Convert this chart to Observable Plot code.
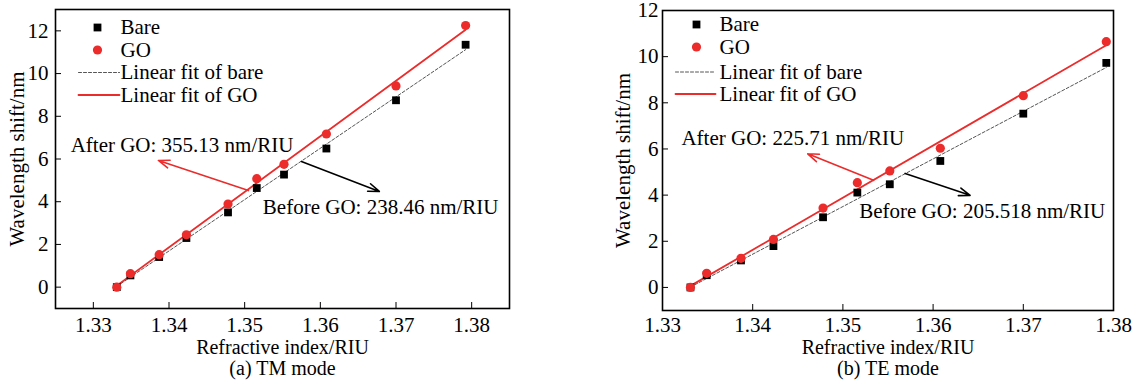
<!DOCTYPE html>
<html>
<head>
<meta charset="utf-8">
<script src="https://cdn.jsdelivr.net/npm/d3@7"></script>
<script src="https://cdn.jsdelivr.net/npm/@observablehq/plot@0.6"></script>
<style>
  html, body { margin: 0; padding: 0; background: #fff; }
  #wrap { position: relative; width: 1148px; height: 386px; overflow: hidden; }
  .panel { position: absolute; top: 0; }
  #wrap svg, #wrap svg text { font-family: "Liberation Serif", "Times New Roman", "DejaVu Serif", serif !important; }
</style>
</head>
<body>
<div id="wrap">
  <div class="panel" id="pa" style="left:0px"></div>
  <div class="panel" id="pb" style="left:574px"></div>
</div>
<script>
// ---- data ----
const refractiveIndex = [1.3331, 1.3349, 1.3387, 1.3423, 1.3478, 1.3516, 1.3552, 1.3608, 1.3700, 1.3792];
const tmBare = [0, 0.55, 1.41, 2.30, 3.50, 4.64, 5.27, 6.49, 8.75, 11.35];
const tmGO   = [0, 0.63, 1.52, 2.45, 3.89, 5.08, 5.75, 7.17, 9.42, 12.25];
const teBare = [0, 0.53, 1.17, 1.79, 3.04, 4.11, 4.47, 5.48, 7.53, 9.73];
const teGO   = [0, 0.61, 1.26, 2.08, 3.44, 4.54, 5.05, 6.03, 8.31, 10.65];

const xTicks = [1.33, 1.34, 1.35, 1.36, 1.37, 1.38];
const yTicks = [0, 2, 4, 6, 8, 10, 12];

const legendLabels = ["Bare", "GO", "Linear fit of bare", "Linear fit of GO"];
const xLabel = "Refractive index/RIU";
const yLabel = "Wavelength shift/nm";
const captionTM = "(a) TM mode";
const captionTE = "(b) TE mode";

// annotations (data units)
const tmAnnotText = [
  {x: 1.3270, y: 6.63, text: "After GO: 355.13 nm/RIU"},
  {x: 1.3524, y: 3.73, text: "Before GO: 238.46 nm/RIU"}
];
const tmArrows = [
  {x1: 1.3505, y1: 4.52, x2: 1.3386, y2: 5.93, c: "red"},
  {x1: 1.3575, y1: 5.88, x2: 1.3678, y2: 4.48, c: "black"}
];
const teAnnotText = [
  {x: 1.3321, y: 6.48, text: "After GO: 225.71 nm/RIU"},
  {x: 1.3518, y: 3.32, text: "Before GO: 205.518 nm/RIU"}
];
const teArrows = [
  {x1: 1.3534, y1: 4.64, x2: 1.3461, y2: 5.79, c: "red"},
  {x1: 1.3569, y1: 4.94, x2: 1.3641, y2: 3.99, c: "black"}
];

const RED = "#ec2b2b";
const FONT = "Liberation Serif";
const lineShape = {draw(context, l) { context.moveTo(0, 0); context.lineTo(0, -l); }};

function panel(opts) {
  const bare = refractiveIndex.map((x, i) => ({x, y: opts.bare[i]}));
  const go = refractiveIndex.map((x, i) => ({x, y: opts.go[i]}));
  const L = opts.legend;
  const T = {fontFamily: FONT, fill: "black"};
  return Plot.plot({
    width: 574,
    height: 386,
    marginLeft: opts.ml,
    marginRight: opts.mr,
    marginTop: opts.mt,
    marginBottom: opts.mb,
    style: {fontFamily: FONT, fontSize: "21px", color: "black", background: "white", overflow: "visible"},
    x: {domain: opts.xDomain, axis: null},
    y: {domain: opts.yDomain, axis: null},
    marks: [
      Plot.axisX({ticks: xTicks, tickSize: -6, tickPadding: opts.xPad, tickFormat: d3.format(".2f"), label: null, fontFamily: FONT}),
      Plot.axisY({ticks: yTicks, tickSize: -6, tickPadding: opts.yPad, label: null, fontFamily: FONT}),
      Plot.frame({stroke: "black", strokeWidth: 1.6}),
      Plot.linearRegressionY(bare, {x: "x", y: "y", stroke: "#555", strokeWidth: 1, strokeDasharray: "3,2", ci: 0}),
      Plot.linearRegressionY(go, {x: "x", y: "y", stroke: RED, strokeWidth: 1.8, ci: 0}),
      Plot.dot(bare, {x: "x", y: "y", symbol: "square", r: 4.4, fill: "black"}),
      Plot.dot(go, {x: "x", y: "y", symbol: "circle", r: 4.6, fill: RED}),
      // annotations
      Plot.arrow(opts.arrows, {x1: "x1", y1: "y1", x2: "x2", y2: "y2", stroke: d => d.c === "red" ? RED : "black", strokeWidth: 1.6, headLength: 11, headAngle: 40}),
      Plot.text(opts.annot, {x: "x", y: "y", text: "text", textAnchor: "start", lineAnchor: "middle", ...T}),
      // legend
      Plot.dot([0], {frameAnchor: "top-left", dx: L.sx, dy: L.y[0], symbol: "square", r: 4.4, fill: "black"}),
      Plot.dot([0], {frameAnchor: "top-left", dx: L.sx, dy: L.y[1], symbol: "circle", r: 4.6, fill: RED}),
      Plot.vector([0], {frameAnchor: "top-left", dx: L.lx, dy: L.y[2], length: L.len, rotate: 90, anchor: "start", shape: lineShape, stroke: "#555", strokeWidth: 1, strokeDasharray: "3,2"}),
      Plot.vector([0], {frameAnchor: "top-left", dx: L.lx, dy: L.y[3], length: L.len, rotate: 90, anchor: "start", shape: lineShape, stroke: RED, strokeWidth: 1.8}),
      ...legendLabels.map((lab, i) => Plot.text([lab], {frameAnchor: "top-left", dx: L.tx, dy: L.y[i], text: d => d, textAnchor: "start", lineAnchor: "middle", ...T})),
      // axis titles and caption
      Plot.text([yLabel], {frameAnchor: "left", dx: opts.yLabDx, rotate: -90, text: d => d, textAnchor: "middle", lineAnchor: "middle", ...T}),
      Plot.text([xLabel], {frameAnchor: "bottom", dy: opts.xLabDy, text: d => d, textAnchor: "middle", lineAnchor: "middle", fontSize: 20, ...T}),
      Plot.text([opts.caption], {frameAnchor: "bottom", dy: opts.capDy, text: d => d, textAnchor: "middle", lineAnchor: "middle", fontSize: 20, ...T})
    ]
  });
}

const a = panel({
  bare: tmBare, go: tmGO,
  xDomain: [1.325, 1.385], yDomain: [-1, 13],
  ml: 55, mr: 65, mt: 9, mb: 78,
  xPad: 15, yPad: 13,
  arrows: tmArrows, annot: tmAnnotText,
  legend: {sx: 42, lx: 23, len: 41, tx: 65, y: [18, 40.5, 63, 85.5]},
  yLabDx: -38, xLabDy: 39.5, capDy: 60.5,
  caption: captionTM
});
const b = panel({
  bare: teBare, go: teGO,
  xDomain: [1.33, 1.38], yDomain: [-1, 12],
  ml: 88, mr: 35, mt: 10, mb: 76,
  xPad: 13, yPad: 10,
  arrows: teArrows, annot: teAnnotText,
  legend: {sx: 34, lx: 13, len: 40, tx: 57, y: [14, 36.5, 61.5, 83.5]},
  yLabDx: -39, xLabDy: 37.5, capDy: 58.5,
  caption: captionTE
});
document.getElementById("pa").appendChild(a);
document.getElementById("pb").appendChild(b);
</script>
</body>
</html>
